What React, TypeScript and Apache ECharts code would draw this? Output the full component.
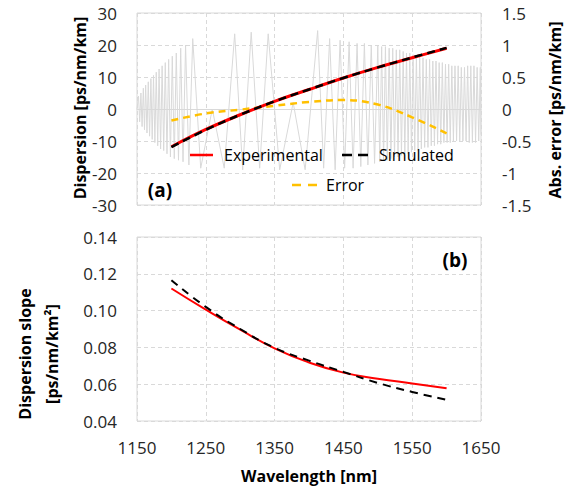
import React, { useEffect, useRef } from "react";
import * as echarts from "echarts";

// Wavelength grid (nm) for the measured / simulated curves
const wavelengths = [1200, 1250, 1300, 1350, 1400, 1450, 1500, 1550, 1600];
// Panel (a): dispersion (ps/nm/km)
const dispExperimental = [-11.8, -6.4, -1.8, 2.4, 6.1, 9.7, 13.0, 16.0, 19.0];
const dispSimulated = [-11.9, -6.5, -1.8, 2.4, 6.1, 9.7, 13.0, 16.1, 19.1];
// Panel (a): absolute error (ps/nm/km), right axis
const absError = [-0.18, -0.07, -0.01, 0.05, 0.11, 0.14, 0.07, -0.13, -0.38];
// Panel (b): dispersion slope (ps/nm/km^2)
const slopeExperimental = [0.112, 0.1005, 0.0896, 0.0795, 0.0718, 0.0663, 0.063, 0.0604, 0.0578];
const slopeSimulated = [0.1165, 0.102, 0.09, 0.0798, 0.0728, 0.0667, 0.0607, 0.0558, 0.0515];

// Panel (a): grey interference fringes, read as successive extrema
const fringeWl = [
  1150, 1152.2, 1153.9, 1155.7, 1157.4, 1159.2, 1160.9, 1162.6, 1164.5, 1166.4, 1168.3,
  1170.2, 1172.1, 1174.0, 1176.0, 1178.0, 1180.1, 1182.1, 1184.3, 1186.5, 1188.8,
  1191.1, 1193.6, 1196.0, 1198.6, 1201.3, 1204.2, 1207.1, 1210.3, 1213.5, 1216.9,
  1220.6, 1225.4, 1231.0,
  1242.6, 1259.4, 1276.8, 1292.0, 1303.6, 1316.0, 1328.3, 1340.7, 1357.4, 1377.0, 1394.4, 1412.6,
  1421.3, 1430.0, 1438.0, 1445.2, 1451.8, 1458.3, 1464.1, 1469.9, 1475.3, 1480.5,
  1485.6, 1490.5, 1495.3,
  1500.0, 1502.8, 1505.6, 1508.4, 1511.1, 1513.8, 1516.5, 1519.1, 1521.7, 1524.3,
  1526.9, 1529.4, 1531.9, 1534.4, 1536.9, 1539.3, 1541.7, 1544.1, 1546.5, 1548.9,
  1551.3, 1553.7, 1556.1, 1558.5, 1560.9, 1563.3, 1565.7, 1568.1, 1570.5, 1572.9,
  1575.3, 1577.7, 1580.0, 1582.3, 1584.6, 1586.9, 1589.2, 1591.5, 1593.8, 1596.1,
  1598.4, 1600.7, 1603.0, 1605.3, 1607.6, 1609.9, 1612.2, 1614.5, 1616.8, 1619.1,
  1621.4, 1623.7, 1626.0, 1628.3, 1630.6, 1632.9, 1635.2, 1637.5, 1639.8, 1642.1,
  1644.4, 1646.7, 1649.0, 1650,
];
const fringeVal = [
  0, 4, -4, 5, -5.5, 6.5, -6.5, 7.5, -7.5, 8.5, -8.5,
  9.5, -9.5, 10.5, -10.5, 11.5, -11.5, 12.5, -12.5, 13.5, -13,
  14.5, -14, 15.5, -15, 16.5, -15.5, 17.5, -16, 19, -16.5,
  20, -17.5, 22,
  -18.5, 0, -18.5, 23.5, -19, 24, -18.5, 23.5, -19, 2, -19, 24.5,
  -18.5, 22, -19, 21.5, -18.5, 21, -18.5, 20.5, -18, 20.5,
  -17.5, 20, -17,
  20, -16.5, 19.5, -16, 19.5, -16, 19, -15.5, 19, -15,
  18.5, -15, 18.5, -14.5, 18, -14, 17.5, -14, 17.5, -13.5,
  17, -13, 16.5, -13, 16.5, -12.5, 16, -12, 15.5, -12,
  15.5, -11.5, 15, -11.5, 15, -11, 14.5, -11, 14.5, -10.5,
  14, -10.5, 14, -10.5, 13.5, -10, 13.5, -10, 13.5, -10,
  13, -10, 13, -10, 13.5, -10.5, 13.5, -10.5, 13.5, -10.5,
  13, -10, 13, -8,
];

const xTicks = { min: 1150, max: 1650, interval: 100 };

const zip = (xs: number[], ys: number[]) => xs.map((x, i) => [x, ys[i]]);

const FONT = "Open Sans";
const GRID_COLOR = "#d9d9d9";
const LABEL_COLOR = "#262626";

export default function App() {
  const ref = useRef<HTMLDivElement>(null);

  useEffect(() => {
    if (!ref.current) return;
    const chart = echarts.init(ref.current, undefined, { renderer: "svg" });

    const splitLine = { show: true, lineStyle: { color: GRID_COLOR, type: [4, 3] as any, width: 1 } };
    const axisLabelBase = { color: LABEL_COLOR, fontSize: 17, fontFamily: FONT };

    const titleText = (text: string, x: number, y: number, rotate: boolean, size = 16) => ({
      type: "text",
      x,
      y,
      z: 100,
      rotation: rotate ? Math.PI / 2 : 0,
      silent: true,
      style: {
        text,
        fill: "#000",
        font: `bold ${size}px "${FONT}"`,
        align: "center",
        verticalAlign: "middle",
        textAlign: "center",
        textVerticalAlign: "middle",
      },
    });

    const legendText = (text: string, x: number, y: number) => ({
      type: "text",
      x,
      y,
      z: 100,
      silent: true,
      style: {
        text,
        fill: "#000",
        font: `16px "${FONT}"`,
        align: "left",
        verticalAlign: "middle",
        textAlign: "left",
        textVerticalAlign: "middle",
      },
    });

    const option: any = {
      animation: false,
      backgroundColor: "#ffffff",
      textStyle: { fontFamily: FONT },
      grid: [
        { left: 137, top: 13, width: 344, height: 192, show: true, borderColor: GRID_COLOR, borderWidth: 1, backgroundColor: "transparent" },
        { left: 137, top: 237, width: 344, height: 184, show: true, borderColor: GRID_COLOR, borderWidth: 1, backgroundColor: "transparent" },
      ],
      xAxis: [
        {
          type: "value", gridIndex: 0, ...xTicks,
          axisLabel: { show: false }, axisTick: { show: false },
          axisLine: { show: true, onZero: true, lineStyle: { color: GRID_COLOR, width: 1 } },
          splitLine,
        },
        {
          type: "value", gridIndex: 1, ...xTicks,
          axisLabel: { ...axisLabelBase, margin: 18, formatter: (v: number) => String(v) },
          axisTick: { show: false },
          axisLine: { show: false },
          splitLine,
        },
      ],
      yAxis: [
        {
          type: "value", gridIndex: 0, min: -30, max: 30, interval: 10,
          axisLabel: { ...axisLabelBase, margin: 20 }, axisTick: { show: false },
          axisLine: { show: false }, splitLine,
        },
        {
          type: "value", gridIndex: 0, position: "right", min: -1.5, max: 1.5, interval: 0.5,
          axisLabel: { ...axisLabelBase, margin: 21 }, axisTick: { show: false },
          axisLine: { show: false }, splitLine: { show: false },
        },
        {
          type: "value", gridIndex: 1, min: 0.04, max: 0.14, interval: 0.02,
          axisLabel: { ...axisLabelBase, margin: 20, formatter: (v: number) => v.toFixed(2) },
          axisTick: { show: false }, axisLine: { show: false }, splitLine,
        },
      ],
      series: [
        {
          name: "Fringes", type: "line", xAxisIndex: 0, yAxisIndex: 0,
          data: zip(fringeWl, fringeVal), showSymbol: false, symbol: "none", silent: true,
          lineStyle: { color: "#d9d9d9", width: 1 }, z: 1,
        },
        {
          name: "Error", type: "line", xAxisIndex: 0, yAxisIndex: 1,
          data: zip(wavelengths, absError), symbol: "none", smooth: 0.4, silent: true,
          lineStyle: { color: "#ffc000", width: 2.5, type: [7, 5] }, z: 3,
        },
        {
          name: "Experimental", type: "line", xAxisIndex: 0, yAxisIndex: 0,
          data: zip(wavelengths, dispExperimental), symbol: "none", smooth: 0.4, silent: true,
          lineStyle: { color: "#ff0000", width: 3 }, z: 4,
        },
        {
          name: "Simulated", type: "line", xAxisIndex: 0, yAxisIndex: 0,
          data: zip(wavelengths, dispSimulated), symbol: "none", smooth: 0.4, silent: true,
          lineStyle: { color: "#000000", width: 2.5, type: [8, 5] }, z: 5,
        },
        {
          name: "Slope experimental", type: "line", xAxisIndex: 1, yAxisIndex: 2,
          data: zip(wavelengths, slopeExperimental), symbol: "none", smooth: 0.5, silent: true,
          lineStyle: { color: "#ff0000", width: 2 }, z: 4,
        },
        {
          name: "Slope simulated", type: "line", xAxisIndex: 1, yAxisIndex: 2,
          data: zip(wavelengths, slopeSimulated), symbol: "none", smooth: 0.5, silent: true,
          lineStyle: { color: "#000000", width: 2, type: [8, 6] }, z: 5,
        },
      ],
      graphic: [
        titleText("Dispersion [ps/nm/km]", 80, 108, true),
        titleText("Abs. error [ps/nm/km]", 555, 110, true),
        titleText("Dispersion slope", 25, 354, true),
        titleText("[ps/nm/km\u00B2]", 52, 354, true),
        titleText("Wavelength [nm]", 309, 476, false),
        titleText("(a)", 160, 190, false, 19),
        titleText("(b)", 455, 260, false, 19),
        // legend
        { type: "line", z: 100, silent: true, shape: { x1: 190, y1: 155, x2: 213, y2: 155 }, style: { stroke: "#ff0000", lineWidth: 2.5 } },
        legendText("Experimental", 224, 155),
        { type: "line", z: 100, silent: true, shape: { x1: 342, y1: 155, x2: 368, y2: 155 }, style: { stroke: "#000000", lineWidth: 2.5, lineDash: [10, 6] } },
        legendText("Simulated", 379, 155),
        { type: "line", z: 100, silent: true, shape: { x1: 292, y1: 185, x2: 317, y2: 185 }, style: { stroke: "#ffc000", lineWidth: 2.5, lineDash: [9, 7] } },
        legendText("Error", 326, 185),
      ],
    };

    chart.setOption(option);
    return () => chart.dispose();
  }, []);

  return (
    <div
      ref={ref}
      style={{ position: "absolute", left: 0, top: 0, width: 571, height: 490, background: "#fff" }}
    />
  );
}
